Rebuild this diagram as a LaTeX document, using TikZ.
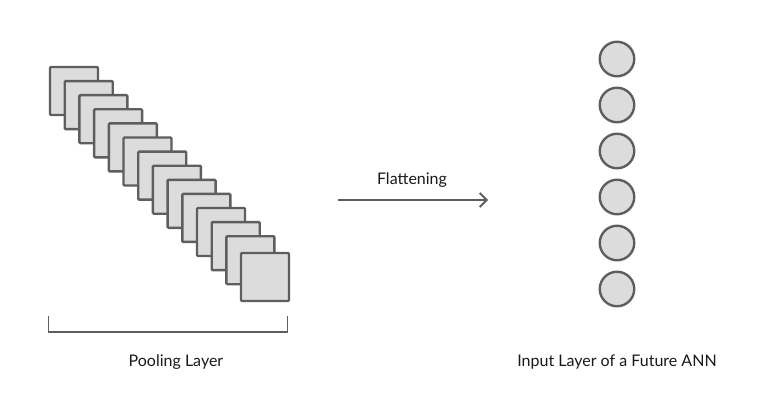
\documentclass[tikz,border=0pt]{standalone}
\usepackage{fontspec}
\setmainfont{Lato}
\usetikzlibrary{arrows.meta,positioning}
\definecolor{edgegray}{HTML}{5E5E5E}
\definecolor{fillgray}{HTML}{DCDCDC}

\begin{document}
\begin{tikzpicture}[x=1pt, y=-1pt, % pixel-like units, y pointing down
         > = {Straight Barb[length=7pt, width=14pt]},
map/.style = {draw=edgegray, fill=fillgray, line width=2.4pt,
              rounded corners=1pt, minimum size=48pt,
              inner sep=0pt, outer sep=0pt},
unit/.style = {circle, draw=edgegray, fill=fillgray, line width=2.4pt,
              minimum size=34.5pt, inner sep=0pt, outer sep=0pt},
label/.style = {font=\fontsize{16}{19}\selectfont, text=black!90,
              inner sep=0pt}
                        ]
	\useasboundingbox (0,0) rectangle (773,417);

	% stack of pooled feature maps
	\foreach \i in {1,...,13}
		\node[map] (sq\i) at ({74+14.7*(\i-1)}, {91+14.1*(\i-1)}) {};
	\node[map] (sq14) at (265,277) {};

	% bracket under the stack
	\coordinate (bl) at (48.5,316);
	\coordinate (br) at (287.5,316);
	\draw[edgegray, line width=1.4pt] (bl) -- ++(0,16) -| (br);
	\node[label] (pool) at (176,362) {Pooling Layer};

	% flattening arrow
	\coordinate (a0) at (338,200);
	\coordinate (a1) at (488,200);
	\draw[->, edgegray, line width=1.8pt] (a0) -- (a1);
	\node[label] (flat) at (412,180) {Flattening};

	% input layer neurons
	\foreach \j in {1,...,6}
		\node[unit] (n\j) at (617, {59+46*(\j-1)}) {};
	\node[label] (inp) at (617,362) {Input Layer of a Future ANN};
\end{tikzpicture}
\end{document}
